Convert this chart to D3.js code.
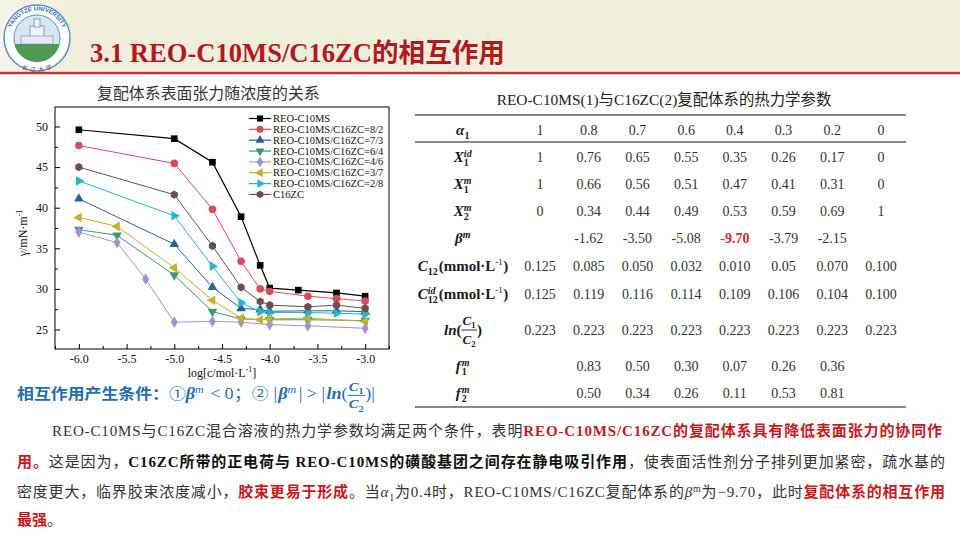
<!DOCTYPE html>
<html><head><meta charset="utf-8">
<script src="https://cdn.jsdelivr.net/npm/d3@7"></script>
<style>body{margin:0;background:#fff}svg{display:block}</style>
</head><body>
<svg id="s" width="960" height="540"></svg>
<script>
// ---------------- DATA ----------------
const seriesNames = ["REO-C10MS","REO-C10MS/C16ZC=8/2","REO-C10MS/C16ZC=7/3","REO-C10MS/C16ZC=6/4","REO-C10MS/C16ZC=4/6","REO-C10MS/C16ZC=3/7","REO-C10MS/C16ZC=2/8","C16ZC"];
const logC_REO  = [-6.0,-5.0,-4.6,-4.3,-4.1,-4.0,-3.7,-3.3,-3.0];
const gamma_REO = [49.6,48.5,45.6,38.9,32.9,30.1,29.85,29.5,29.1];
const logC_82   = [-6.0,-5.0,-4.6,-4.3,-4.1,-4.0,-3.6,-3.3,-3.0];
const gamma_82  = [47.65,45.45,39.8,33.4,30.0,29.7,29.1,28.8,28.5];
const logC_73   = [-6.0,-5.0,-4.6,-4.3,-4.1,-4.0,-3.6,-3.3,-3.0];
const gamma_73  = [41.1,35.5,30.2,27.6,27.45,27.25,27.3,27.3,27.2];
const logC_64   = [-6.0,-5.6,-5.0,-4.6,-4.3,-4.0,-3.6,-3.0];
const gamma_64  = [37.3,36.6,31.7,27.2,26.3,26.2,26.2,26.1];
const logC_46   = [-6.0,-5.6,-5.3,-5.0,-4.6,-4.3,-4.0,-3.6,-3.0];
const gamma_46  = [37.0,35.7,31.2,25.9,26.0,25.9,25.6,25.45,25.15];
const logC_37   = [-6.0,-5.6,-5.0,-4.6,-4.3,-4.1,-4.0,-3.6,-3.0];
const gamma_37  = [38.8,37.7,32.6,28.6,26.4,26.2,26.3,26.4,26.0];
const logC_28   = [-6.0,-5.0,-4.6,-4.3,-4.1,-4.0,-3.6,-3.3,-3.0];
const gamma_28  = [43.3,39.0,32.8,28.3,27.2,27.1,27.1,27.0,26.9];
const logC_ZC   = [-6.0,-5.0,-4.6,-4.3,-4.1,-4.0,-3.6,-3.3,-3.0];
const gamma_ZC  = [45.0,41.6,35.3,30.2,28.45,28.0,27.8,28.0,27.6];
const xTicks = [-6.0,-5.5,-5.0,-4.5,-4.0,-3.5,-3.0];
const yTicks = [25,30,35,40,45,50];

const alpha1 = ["1","0.8","0.7","0.6","0.4","0.3","0.2","0"];
const X1id  = ["1","0.76","0.65","0.55","0.35","0.26","0.17","0"];
const X1m   = ["1","0.66","0.56","0.51","0.47","0.41","0.31","0"];
const X2m   = ["0","0.34","0.44","0.49","0.53","0.59","0.69","1"];
const betaM = ["","-1.62","-3.50","-5.08","-9.70","-3.79","-2.15",""];
const C12   = ["0.125","0.085","0.050","0.032","0.010","0.05","0.070","0.100"];
const C12id = ["0.125","0.119","0.116","0.114","0.109","0.106","0.104","0.100"];
const lnC1C2= ["0.223","0.223","0.223","0.223","0.223","0.223","0.223","0.223"];
const f1m   = ["","0.83","0.50","0.30","0.07","0.26","0.36",""];
const f2m   = ["","0.50","0.34","0.26","0.11","0.53","0.81",""];

// ---------------- STYLE ----------------
const SERIF = "'Liberation Serif','Noto Sans CJK SC',serif";
const CJK = "'Noto Sans CJK SC','Noto Sans',sans-serif";
const colors = ["#000000","#dc4c57","#2c5f9f","#3a9a70","#a98dd4","#c8ae2c","#22b8cc","#6e4e52"];
const symHex = {draw(ctx,size){const r=Math.sqrt(size/(1.5*Math.sqrt(3)));for(let i=0;i<6;i++){const a=Math.PI/3*i+Math.PI/6;const px=r*Math.cos(a),py=r*Math.sin(a);i?ctx.lineTo(px,py):ctx.moveTo(px,py);}ctx.closePath();}};
const symbols = [[d3.symbolSquare,0,44],[d3.symbolCircle,0,46],[d3.symbolTriangle,0,40],[d3.symbolTriangle,180,40],[d3.symbolDiamond,0,40],[d3.symbolTriangle,-90,40],[d3.symbolTriangle,90,40],[symHex,0,44]];

const svg = d3.select("#s");

// ---------------- HEADER ----------------
const defs = svg.append("defs");
const hg = defs.append("linearGradient").attr("id","hg").attr("x1","0").attr("x2","1");
hg.append("stop").attr("offset","0").attr("stop-color","#f6f5ea");
hg.append("stop").attr("offset","0.08").attr("stop-color","#f0efdc");
hg.append("stop").attr("offset","1").attr("stop-color","#f0efdb");
svg.append("rect").attr("x",0).attr("y",0).attr("width",960).attr("height",72).attr("fill","url(#hg)");
svg.append("line").attr("x1",0).attr("x2",960).attr("y1",73).attr("y2",73).attr("stroke","#f0b8b4").attr("stroke-width",3.5);
svg.append("line").attr("x1",0).attr("x2",960).attr("y1",73).attr("y2",73).attr("stroke","#c0393a").attr("stroke-width",2);

// logo
const logo = svg.append("g").attr("transform","translate(37,38)");
defs.append("path").attr("id","lgTop").attr("d","M -27.5,0 A 27.5 27.5 0 0 1 27.5 0");
defs.append("path").attr("id","lgBot").attr("d","M -29,0 A 29 29 0 0 0 29 0");
logo.append("circle").attr("r",33).attr("fill","#fff").attr("stroke","#5b8fc4").attr("stroke-width",1.5);
logo.append("circle").attr("r",23).attr("fill","#d8e6f2").attr("stroke","#5b8fc4").attr("stroke-width",1);
logo.append("path").attr("d","M -22.5,6 A 23 23 0 0 0 22.5 6 Z").attr("fill","#4f9a55");
logo.append("rect").attr("x",-7).attr("y",-12).attr("width",14).attr("height",18).attr("fill","#eef2f7").attr("stroke","#6c90b5").attr("stroke-width",0.8);
logo.append("rect").attr("x",-3).attr("y",-19).attr("width",6).attr("height",8).attr("fill","#eef2f7").attr("stroke","#6c90b5").attr("stroke-width",0.8);
logo.append("rect").attr("x",-16).attr("y",-2).attr("width",32).attr("height",8).attr("fill","#e4eaf1").attr("stroke","#6c90b5").attr("stroke-width",0.6);
logo.append("text").style("font-family","'Liberation Sans',sans-serif").style("font-size","6px").style("font-weight","bold").attr("fill","#2f6fae")
  .append("textPath").attr("href","#lgTop").attr("startOffset","50%").attr("text-anchor","middle").text("YANGTZE UNIVERSITY");
logo.append("text").style("font-family",CJK).style("font-size","6px").attr("fill","#9b3a2c").attr("dy","5")
  .append("textPath").attr("href","#lgBot").attr("startOffset","50%").attr("text-anchor","middle").text("长 江 大 学");

function fitFont(sel, target, fs){
  const w = sel.node().getComputedTextLength();
  sel.style("font-size", (fs*target/w) + "px");
}
const title = svg.append("text").attr("x",90).attr("y",62).text("3.1 REO-C10MS/C16ZC的相互作用")
  .style("font-family",SERIF).style("font-weight","bold").style("font-size","24px").attr("fill","#b3181d");
fitFont(title, 415, 24);

// ---------------- CHART ----------------
const L=55,R=389,T=107,B=349;
const x = d3.scaleLinear().domain([-6.25,-2.75]).range([L,R]);
const y = d3.scaleLinear().domain([22.6,52.4]).range([B,T]);

const ct = svg.append("text").attr("x",97).attr("y",99).text("复配体系表面张力随浓度的关系")
  .style("font-family",CJK).style("font-size","15px").attr("fill","#333");
fitFont(ct, 223, 15);

svg.append("g").attr("transform",`translate(0,${B})`)
  .call(d3.axisBottom(x).tickValues(xTicks).tickSize(-5).tickPadding(5).tickFormat(d=>d.toFixed(1)));
svg.append("g").attr("transform",`translate(0,${B})`)
  .call(d3.axisBottom(x).tickValues(d3.range(-6.25,-2.74,0.5)).tickSize(-3).tickFormat(""));
svg.append("g").attr("transform",`translate(${L},0)`)
  .call(d3.axisLeft(y).tickValues(yTicks).tickSize(-5).tickPadding(7));
svg.append("g").attr("transform",`translate(${L},0)`)
  .call(d3.axisLeft(y).tickValues([27.5,32.5,37.5,42.5,47.5]).tickSize(-3).tickFormat(""));
svg.selectAll(".domain").remove();
svg.selectAll(".tick line").attr("stroke","#000");
svg.selectAll(".tick text").style("font-family",SERIF).style("font-size","12px").attr("fill","#111");
svg.append("rect").attr("x",L).attr("y",T).attr("width",R-L).attr("height",B-T).attr("fill","none").attr("stroke","#000").attr("stroke-width",1);

const ylab = svg.append("text").attr("transform","translate(27,233) rotate(-90)").attr("text-anchor","middle")
  .style("font-family",SERIF).style("font-size","12px").attr("fill","#111");
ylab.append("tspan").text("γ/mN·m");
ylab.append("tspan").attr("dy",-5).style("font-size","8px").text("-1");
const xlab = svg.append("text").attr("x",222).attr("y",377).attr("text-anchor","middle")
  .style("font-family",SERIF).style("font-size","12px").attr("fill","#111");
xlab.append("tspan").text("log[c/mol·L");
xlab.append("tspan").attr("dy",-5).style("font-size","8px").text("-1");
xlab.append("tspan").attr("dy",5).text("]");

const xsAll = [logC_REO,logC_82,logC_73,logC_64,logC_46,logC_37,logC_28,logC_ZC];
const ysAll = [gamma_REO,gamma_82,gamma_73,gamma_64,gamma_46,gamma_37,gamma_28,gamma_ZC];
const series = seriesNames.map((n,i)=>({name:n, pts:d3.zip(xsAll[i], ysAll[i])}));
const line = d3.line().x(d=>x(d[0])).y(d=>y(d[1]));
const plot = svg.append("g");
series.forEach((s,i)=>{
  plot.append("path").attr("d",line(s.pts)).attr("fill","none").attr("stroke",colors[i]).attr("stroke-width",i===0?1.2:1);
});
series.forEach((s,i)=>{
  const [type,rot,size] = symbols[i];
  plot.selectAll(null).data(s.pts).join("path")
    .attr("transform",d=>`translate(${x(d[0])},${y(d[1])}) rotate(${rot})`)
    .attr("d",d3.symbol().type(type).size(size)).attr("fill",colors[i]);
});
// legend
const lg = svg.append("g");
series.forEach((s,i)=>{
  const yy = 118.5 + i*10.85;
  lg.append("line").attr("x1",249).attr("x2",271).attr("y1",yy).attr("y2",yy).attr("stroke",colors[i]).attr("stroke-width",1.2);
  const [type,rot,size] = symbols[i];
  lg.append("path").attr("transform",`translate(260,${yy}) rotate(${rot})`).attr("d",d3.symbol().type(type).size(size*0.85)).attr("fill",colors[i]);
  lg.append("text").attr("x",273).attr("y",yy+3.5).text(s.name).style("font-family",SERIF).style("font-size","10.5px").attr("fill","#111");
});

// ---------------- COMPOSER ----------------
function compose(parent, segs, base){
  const g = parent.append("g");
  let cx = 0;
  const put = (t, st, px, py) => {
    const s = Object.assign({}, base, st);
    const el = g.append("text").attr("x",px).attr("y",py).text(t)
      .style("font-family",s.ff).style("font-size",s.fs+"px").style("font-weight",s.fw)
      .style("font-style",s.it?"italic":"normal").attr("fill",s.fill);
    return el.node().getComputedTextLength();
  };
  segs.forEach(s=>{
    if (s.frac){
      const n = compose(g, s.frac[0], Object.assign({}, base, s.fst||{}));
      const d = compose(g, s.frac[1], Object.assign({}, base, s.fst||{}));
      const w = Math.max(n.w,d.w)+2;
      n.g.attr("transform",`translate(${cx+(w-n.w)/2},${-s.up})`);
      d.g.attr("transform",`translate(${cx+(w-d.w)/2},${s.down})`);
      g.append("line").attr("x1",cx).attr("x2",cx+w).attr("y1",s.bar).attr("y2",s.bar).attr("stroke",base.fill).attr("stroke-width",0.9);
      cx += w + (s.gap||0);
    } else if (s.sup!==undefined || s.sub!==undefined){
      let w = 0;
      if (s.sup) w = Math.max(w, put(s.sup, s.supSt||{}, cx, -(s.up||5.5)));
      if (s.sub) w = Math.max(w, put(s.sub, s.subSt||{}, cx, (s.down||4)));
      cx += w + (s.gap===undefined?0.5:s.gap);
    } else {
      cx += put(s.t, s, cx, 0) + (s.gap||0);
    }
  });
  return {g, w:cx};
}
function placeC(parent, segs, base, cxp, yp){
  const r = compose(parent, segs, base);
  r.g.attr("transform",`translate(${cxp - r.w/2},${yp})`);
  return r;
}

// ---------------- TABLE ----------------
const tt = svg.append("text").attr("x",664).attr("y",105).attr("text-anchor","middle")
  .text("REO-C10MS(1)与C16ZC(2)复配体系的热力学参数").style("font-family",SERIF).style("font-size","15px").attr("fill","#222");
fitFont(tt, 335, 15);
const TL=415, TR=906;
svg.append("line").attr("x1",TL).attr("x2",TR).attr("y1",115).attr("y2",115).attr("stroke","#111").attr("stroke-width",1);
svg.append("line").attr("x1",TL).attr("x2",TR).attr("y1",142).attr("y2",142).attr("stroke","#8a8a8a").attr("stroke-width",2);
svg.append("line").attr("x1",TL).attr("x2",TR).attr("y1",407).attr("y2",407).attr("stroke","#111").attr("stroke-width",1.2);

const colX = d3.scalePoint().domain(d3.range(8)).range([540,881]);
const rowBase = [135,162,189,216,243,271,299,335,371,398];
const rows = [alpha1,X1id,X1m,X2m,betaM,C12,C12id,lnC1C2,f1m,f2m];
const tbl = svg.append("g");
rows.forEach((r,ri)=>{
  tbl.selectAll(null).data(r).join("text")
    .attr("x",(d,i)=>colX(i)).attr("y",rowBase[ri]).attr("text-anchor","middle").text(d=>d)
    .style("font-family",SERIF).style("font-size","14px")
    .style("font-weight",d=>d==="-9.70"?"bold":"normal")
    .attr("fill",d=>d==="-9.70"?"#d9262c":"#333");
});
const LB = {ff:SERIF, fs:15, fw:"bold", it:false, fill:"#1a1a1a"};
const supS = {fs:10, it:true}, subS = {fs:10};
const Cfrac = (n)=>[{t:"C",it:true},{sub:n,subSt:{fs:8.5},down:3}];
const labels = [
  [{t:"α",it:true},{sub:"1",subSt:subS}],
  [{t:"X",it:true},{sup:"id",supSt:supS,sub:"1",subSt:subS}],
  [{t:"X",it:true},{sup:"m",supSt:supS,sub:"1",subSt:subS}],
  [{t:"X",it:true},{sup:"m",supSt:supS,sub:"2",subSt:subS}],
  [{t:"β",it:true},{sup:"m",supSt:supS}],
  [{t:"C",it:true},{sub:"12",subSt:subS,gap:1},{t:"(mmol·L"},{sup:"-1",supSt:{fs:9,fw:"normal"},up:6},{t:")"}],
  [{t:"C",it:true},{sup:"id",supSt:supS,sub:"12",subSt:subS,gap:1},{t:"(mmol·L"},{sup:"-1",supSt:{fs:9,fw:"normal"},up:6},{t:")"}],
  [{t:"ln",it:true},{t:"("},{frac:[Cfrac("1"),Cfrac("2")],fst:{fs:13},up:10,down:9,bar:-5},{t:")"}],
  [{t:"f",it:true,gap:1},{sup:"m",supSt:supS,sub:"1",subSt:subS}],
  [{t:"f",it:true,gap:1},{sup:"m",supSt:supS,sub:"2",subSt:subS}]
];
labels.forEach((segs,i)=>placeC(tbl, segs, LB, 463, rowBase[i]));

// ---------------- CONDITION LINE ----------------
const BL = {ff:SERIF, fs:15, fw:"bold", it:false, fill:"#1f6db3"};
const cond = compose(svg, [
  {t:"相互作用产生条件：",ff:CJK,fs:14},
  {t:"①",ff:CJK,fs:14,fw:"normal"},
  {t:"β",it:true},{sup:"m",supSt:{fs:10,it:true,fw:"normal"},gap:5},
  {t:"< 0；",fw:"normal"},
  {t:"②",ff:CJK,fs:14,fw:"normal",gap:4},
  {t:"|",fw:"normal",gap:1},{t:"β",it:true},{sup:"m",supSt:{fs:10,it:true,fw:"normal"},gap:2},{t:"| > |",fw:"normal",gap:1},
  {t:"ln",it:true},{t:"(",fw:"normal"},
  {frac:[Cfrac("1"),Cfrac("2")],fst:{fs:12},up:8,down:9,bar:-3.5},
  {t:")|",fw:"normal"}
], BL);
const condK = 358 / cond.w;
cond.g.attr("transform",`translate(17,399) scale(${condK},1.05)`);

// ---------------- PARAGRAPH ----------------
const N = {fill:"#333", fw:"normal"}, RD = {fill:"#c8191f", fw:"bold"}, BK = {fill:"#111", fw:"bold"};
const paraLines = [
  {x0:52, x1:942, y:436, segs:[[N,"REO-C10MS与C16ZC混合溶液的热力学参数均满足两个条件，表明"],[RD,"REO-C10MS/C16ZC的复配体系具有降低表面张力的协同作"]]},
  {x0:17, x1:945, y:467, segs:[[RD,"用。"],[N,"这是因为，"],[BK,"C16ZC所带的正电荷与 REO-C10MS的磺酸基团之间存在静电吸引作用"],[N,"，使表面活性剂分子排列更加紧密，疏水基的"]]},
  {x0:17, x1:945, y:497, segs:[[N,"密度更大，临界胶束浓度减小，"],[RD,"胶束更易于形成"],[N,"。当"],[Object.assign({it:true},N),"α"],[Object.assign({sub:true},N),"1"],[N,"为0.4时，REO-C10MS/C16ZC复配体系的"],[Object.assign({it:true},N),"β"],[Object.assign({sup:true},N),"m"],[N,"为−9.70，此时"],[RD,"复配体系的相互作用"]]},
  {x0:17, x1:null, y:525, segs:[[RD,"最强"],[N,"。"]]}
];
paraLines.forEach(pl=>{
  const t = svg.append("text").attr("x",pl.x0).attr("y",pl.y).style("font-family",SERIF).style("font-size","15px");
  let shift = 0;
  pl.segs.forEach(([st,txt])=>{
    const ts = t.append("tspan").text(txt).attr("fill",st.fill).style("font-weight",st.fw)
      .style("font-style",st.it?"italic":"normal");
    let dy = -shift; shift = 0;
    if (st.sub){ dy += 4; shift = 4; ts.style("font-size","10px"); }
    if (st.sup){ dy += -5; shift = -5; ts.style("font-size","10px"); }
    if (dy) ts.attr("dy",dy);
  });
  if (pl.x1){
    const n = t.node(); const w = n.getComputedTextLength(); const c = n.textContent.length;
    t.attr("letter-spacing", ((pl.x1-pl.x0-w)/(c-1))+"px");
  }
});
</script>
</body></html>
